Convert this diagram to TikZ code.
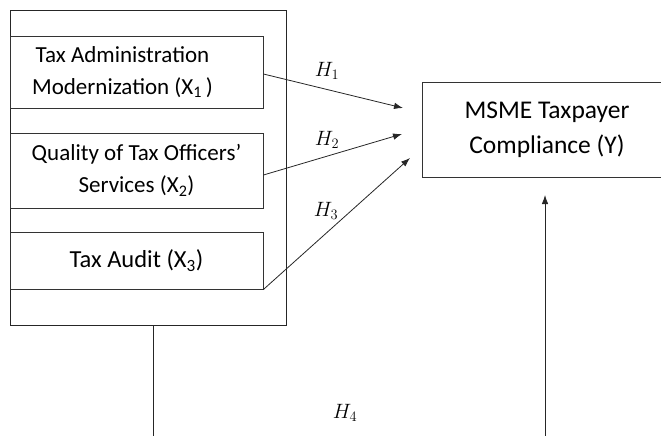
\documentclass[tikz,border=0pt]{standalone}
\usepackage{fontspec}
\setmainfont{Carlito}
\usetikzlibrary{arrows.meta}
\begin{document}
\begin{tikzpicture}[x=1pt,y=-1pt,
    var/.style={draw=black!80, line width=0.9pt, inner sep=0pt, align=center,
      minimum width=253pt, font=\fontsize{23}{32}\selectfont},
    hyp/.style={font=\fontsize{21}{21}\selectfont},
    link/.style={draw=black!85, line width=0.8pt, -{Latex[length=9pt,width=6.5pt]}}]
    \useasboundingbox (0,0) rectangle (661,436);
    \draw [black!85, line width=0.9pt] (10,10) rectangle (286,325);
    \node [var, minimum height=72pt] (x1) at (136.5,72) {Tax Administration\hspace*{28pt}\\Modernization (X\textsubscript{1}\,)\hspace*{28pt}};
    \node [var, minimum height=75pt] (x2) at (136.5,170.5) {Quality of Tax Officers'\\Services (X\textsubscript{2})};
    \node [var, minimum height=57pt, font=\fontsize{24.5}{32}\selectfont] (x3) at (136.5,260.5) {Tax Audit (X\textsubscript{3})};
    \node [var, minimum width=250pt, minimum height=95pt, font=\fontsize{25.5}{35}\selectfont] (y) at (547,129.5) {MSME Taxpayer\\Compliance (Y)};
    \coordinate (t1) at (403,108);
    \coordinate (t2) at (402,134);
    \coordinate (t3) at (410,158);
    \coordinate (frame) at (153,325);
    \coordinate (base1) at (153,440);
    \coordinate (base2) at (545,440);
    \coordinate (t4) at (545,195);
    \draw [link] (x1.east |- 0,74) -- (t1);
    \draw [link] (x2.east |- 0,175) -- (t2);
    \draw [link] (x3.south east) -- (t3);
    \draw [black!85, line width=0.9pt] (frame) -- (base1);
    \draw [link] (base2) -- (t4);
    \node [hyp] (h1) at (327,71) {$H_1$};
    \node [hyp] (h2) at (327,140) {$H_2$};
    \node [hyp] (h3) at (326,211) {$H_3$};
    \node [hyp] (h4) at (345,413) {$H_4$};
\end{tikzpicture}
\end{document}
